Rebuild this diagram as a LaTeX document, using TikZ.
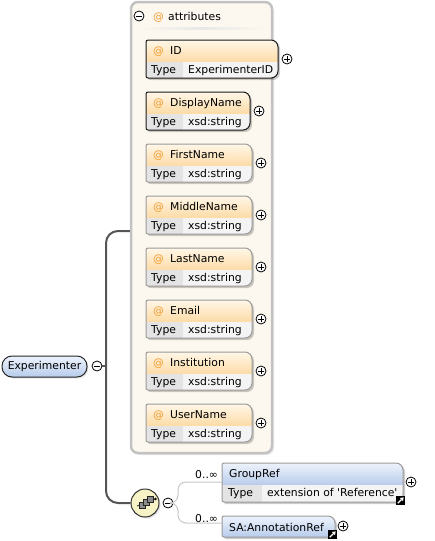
\documentclass[tikz,border=0pt]{standalone}
\usepackage{fontspec}
\setmainfont{DejaVu Sans}
\usetikzlibrary{calc,shadows,arrows.meta}

\definecolor{panelfill}{HTML}{FDF8EF}
\definecolor{panelline}{HTML}{C2C2C2}
\definecolor{atorange}{HTML}{F29B2F}
\definecolor{hdtop}{HTML}{FFF7E8}
\definecolor{hdbot}{HTML}{FCDBA6}
\definecolor{typecell}{HTML}{E4E4E4}
\definecolor{valcell}{HTML}{F4F4F4}
\definecolor{optline}{HTML}{9A9A9A}
\definecolor{reqline}{HTML}{1A1A1A}
\definecolor{bluetop}{HTML}{EEF3FC}
\definecolor{bluebot}{HTML}{B7CCEB}
\definecolor{seqfill}{HTML}{F8F3C6}
\definecolor{spinecol}{HTML}{555555}
\definecolor{branchcol}{HTML}{C6C6C6}

\tikzset{
  txt/.style={font=\fontsize{10.8}{12}\selectfont, inner sep=0pt, anchor=base west},
  toggle/.style={circle, draw=black, fill=white, minimum size=10pt, inner sep=0pt, line width=0.8pt},
  minusbtn/.style={toggle, path picture={
      \draw[line width=0.9pt] ($(path picture bounding box.center)+(-2.6,0)$) -- ++(5.2,0);}},
  plusbtn/.style={toggle, path picture={
      \draw[line width=0.9pt] ($(path picture bounding box.center)+(-2.6,0)$) -- ++(5.2,0)
                              ($(path picture bounding box.center)+(0,-2.6)$) -- ++(0,5.2);}},
  spine/.style={draw=spinecol, line width=2pt, rounded corners=12},
  branch/.style={draw=branchcol, line width=1pt, rounded corners=8},
  linkbox/.style={fill=black, minimum size=9pt, inner sep=0pt},
  linkarrow/.style={draw=white, line width=1.1pt, -{Triangle[length=3pt,width=4.2pt]}},
  boxshadow/.style={fill=black, opacity=0.2},
}

% outline of a component box: small radius on the left, larger on the right
\newcommand\boxpath[5]{%
  \path[#5] (#1,{(#2+#4)/2}) [rounded corners=2] -- (#1,#2)
     [rounded corners=7] -- (#3,#2) -- (#3,#4)
     [rounded corners=2] -- (#1,#4) -- cycle;}

% attribute box: #1 name, #2 top edge, #3 right edge, #4 label, #5 type, #6 outline colour
\newcommand\attrbox[6]{%
  \boxpath{148}{#2+2}{#3+2}{#2+40}{boxshadow}
  \begin{scope}
    \boxpath{146}{#2}{#3}{#2+38}{clip}
    \shade[top color=hdtop,bottom color=hdbot] (146,#2) rectangle (#3,#2+22);
    \fill[typecell] (146,#2+22) rectangle (183,#2+38);
    \fill[valcell] (183,#2+22) rectangle (#3,#2+38);
  \end{scope}
  \boxpath{146}{#2}{#3}{#2+38}{draw=#6,line width=1pt}
  \node[txt,text=atorange] (#1-at) at (153,#2+14) {@};
  \node[txt] (#1) at (170,#2+14) {#4};
  \node[txt] (#1-tl) at (151,#2+33) {Type};
  \node[txt] (#1-ty) at (188,#2+33) {#5};
  \node[plusbtn] (#1-exp) at (#3+9,#2+19) {};
}

\begin{document}
\begin{tikzpicture}[x=1pt,y=-1pt]
\useasboundingbox (0,0) rectangle (435,541);

% attributes panel
\node[draw=panelline, fill=panelfill, line width=2.5pt, rounded corners=7,
      minimum width=141pt, minimum height=451pt, inner sep=0pt,
      drop shadow={shadow xshift=2pt, shadow yshift=-2pt, opacity=0.18}]
      (attrs) at (201.5,227.5) {};
\shade[left color=panelfill, right color=panelfill, middle color=black!9] (134,27) rectangle (268,29.5);
\node[minusbtn] (attrs-tg) at (139,16) {};
\node[txt,text=atorange] (attrs-at) at (153,20) {@};
\node[txt] (attrs-lbl) at (168,20) {attributes};

\attrbox{ID}{40}{278}{ID}{ExperimenterID}{reqline}
\attrbox{DisplayName}{92}{250}{DisplayName}{xsd:string}{reqline}
\attrbox{FirstName}{144}{252}{FirstName}{xsd:string}{optline}
\attrbox{MiddleName}{196}{252}{MiddleName}{xsd:string}{optline}
\attrbox{LastName}{248}{252}{LastName}{xsd:string}{optline}
\attrbox{Email}{300}{252}{Email}{xsd:string}{optline}
\attrbox{Institution}{352}{252}{Institution}{xsd:string}{optline}
\attrbox{UserName}{404}{252}{UserName}{xsd:string}{optline}

% root element
\node[draw=black!85, line width=1pt, rounded corners=10, top color=bluetop, bottom color=bluebot,
      minimum width=85pt, minimum height=21pt, inner sep=0pt,
      font=\fontsize{10.8}{12}\selectfont,
      drop shadow={shadow xshift=1.5pt, shadow yshift=-1.5pt, opacity=0.2}]
      (exp) at (44.5,366.5) {Experimenter};
\node[minusbtn] (exp-tg) at (97,366) {};

% sequence compositor
\node[circle, draw=black!80, fill=seqfill, line width=1pt, minimum size=28pt, inner sep=0pt,
      drop shadow={shadow xshift=1.5pt, shadow yshift=-1.5pt, opacity=0.25}]
      (seq) at (145,503) {};
\draw[black!75, line width=0.9pt] (137,506) -- (155,499);
\fill[black] (155.5,499) circle (1.3pt);
\foreach \cx/\cy in {142/505.5, 146/502.5, 150/499.5}
  \filldraw[fill=black!45, draw=black!85, line width=0.5pt] (\cx-3,\cy-3) rectangle ++(6,6);
\node[minusbtn] (seq-tg) at (168,503) {};

% spine from the root
\coordinate (attr-pin) at (attrs.west |- 0,231);
\coordinate (spine-top) at (106,231);
\coordinate (spine-mid) at (106,366);
\coordinate (spine-bot) at (106,503);
\draw[spine] (attr-pin) -- (spine-top) -- (spine-bot) -- (seq.west);
\draw[spine] (exp-tg.east) -- (spine-mid);

% GroupRef element
\boxpath{224}{465}{405}{504}{boxshadow}
\begin{scope}
  \boxpath{222}{463}{403}{502}{clip}
  \shade[top color=bluetop,bottom color=bluebot] (222,463) rectangle (403,485);
  \fill[typecell] (222,485) rectangle (262,502);
  \fill[valcell] (262,485) rectangle (403,502);
\end{scope}
\boxpath{222}{463}{403}{502}{draw=optline,line width=1pt}
\node[txt] (gr) at (229,477) {GroupRef};
\node[txt] (gr-tl) at (228,496.5) {Type};
\node[txt] (gr-ty) at (267,496.5) {extension of \textquotesingle Reference\textquotesingle};
\node[plusbtn] (gr-exp) at (411,482) {};
\node[linkbox] (gr-link) at (400.5,500.5) {};
\draw[linkarrow] ($(gr-link.south west)+(2,-2)$) -- ($(gr-link.north east)+(-1.6,1.6)$);
\coordinate (gr-in) at (222,482);

% SA:AnnotationRef element
\boxpath{224}{518}{337}{539}{boxshadow}
\boxpath{222}{516}{335}{537}{draw=optline,line width=1pt,top color=bluetop,bottom color=bluebot}
\node[txt] (sa) at (229,531) {SA:AnnotationRef};
\node[plusbtn] (sa-exp) at (343,526) {};
\node[linkbox] (sa-link) at (332.5,534.5) {};
\draw[linkarrow] ($(sa-link.south west)+(2,-2)$) -- ($(sa-link.north east)+(-1.6,1.6)$);
\coordinate (sa-in) at (222,523);

% branches of the sequence
\coordinate (fork) at (178,503);
\draw[branch] (seq-tg.east) -- (fork) |- (gr-in);
\draw[branch] (seq-tg.east) -- (fork) |- (sa-in);
\node[txt] (gr-occ) at (195,478) {0..∞};
\node[txt] (sa-occ) at (195,522) {0..∞};

\end{tikzpicture}
\end{document}
